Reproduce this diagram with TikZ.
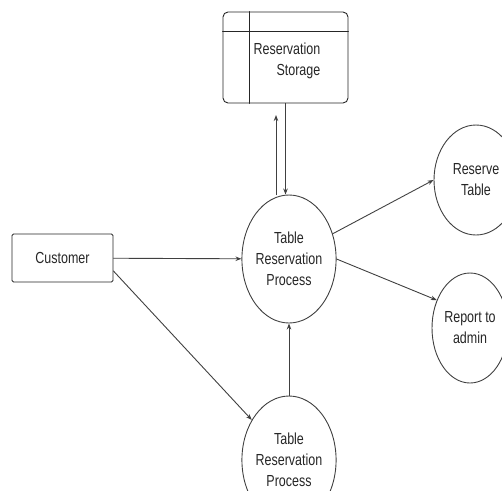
\documentclass[tikz,border=0pt]{standalone}
\usepackage{fontspec}
\setmainfont{Liberation Sans}[FakeStretch=0.78]
\usetikzlibrary{shapes.geometric,arrows.meta,positioning}
\begin{document}
\begin{tikzpicture}[x=1pt, y=-1pt, >={Stealth[length=6pt,width=4.5pt]}, line join=round, line cap=round,
	font=\fontsize{16}{21}\selectfont,
	every node/.style={text=black!85},
	line/.style={draw=black!75, line width=0.9pt},
	store/.style={line, draw=black!85, rectangle, rounded corners=5pt, minimum width=125pt, minimum height=91pt},
	entity/.style={line, draw=black!85, rectangle, rounded corners=1.5pt, minimum width=101pt, minimum height=48pt},
	proc/.style={line, ellipse, minimum width=88pt, minimum height=128pt, inner sep=0pt, align=center}]
	\path[use as bounding box, clip] (0,0) rectangle (502,490);
	% data store
	\node[store] (storage) at (285.5,57.5) {};
	\draw[line, draw=black!85] ([xshift=27pt]storage.north west) -- ([xshift=27pt]storage.south west);
	\draw[line, draw=black!85] ([yshift=-20pt]storage.north west) -- ([yshift=-20pt]storage.north east);
	\node[align=right] (storelabel) at (287,61) {Reservation\\Storage};
	% entity and processes
	\node[entity] (customer) at (62.5,258) {Customer};
	\node[proc] (process) at (289,259) {Table\\Reservation\\Process};
	\node[proc, minimum width=84pt, minimum height=110pt] (reserve) at (476,180) {Reserve\\Table};
	\node[proc, minimum width=76pt, minimum height=110pt] (report) at (470,328) {Report to\\admin};
	\node[proc] (entry) at (289,460) {Table\\Reservation\\Process};
	% flows
	\coordinate (upend) at (276,115);
	\draw[line, ->] (upend |- process.north) -- (upend);
	\draw[line, ->] (storage.south) -- (storage.south |- process.north);
	\draw[line, ->] (customer) -- (process);
	\draw[line, ->] ([yshift=-13pt]customer.east) -- (entry);
	\draw[line, ->] (entry) -- (process);
	\draw[line, ->] (process.30) -- (reserve.west);
	\draw[line, ->] (process.east) -- (report.140);
\end{tikzpicture}
\end{document}
